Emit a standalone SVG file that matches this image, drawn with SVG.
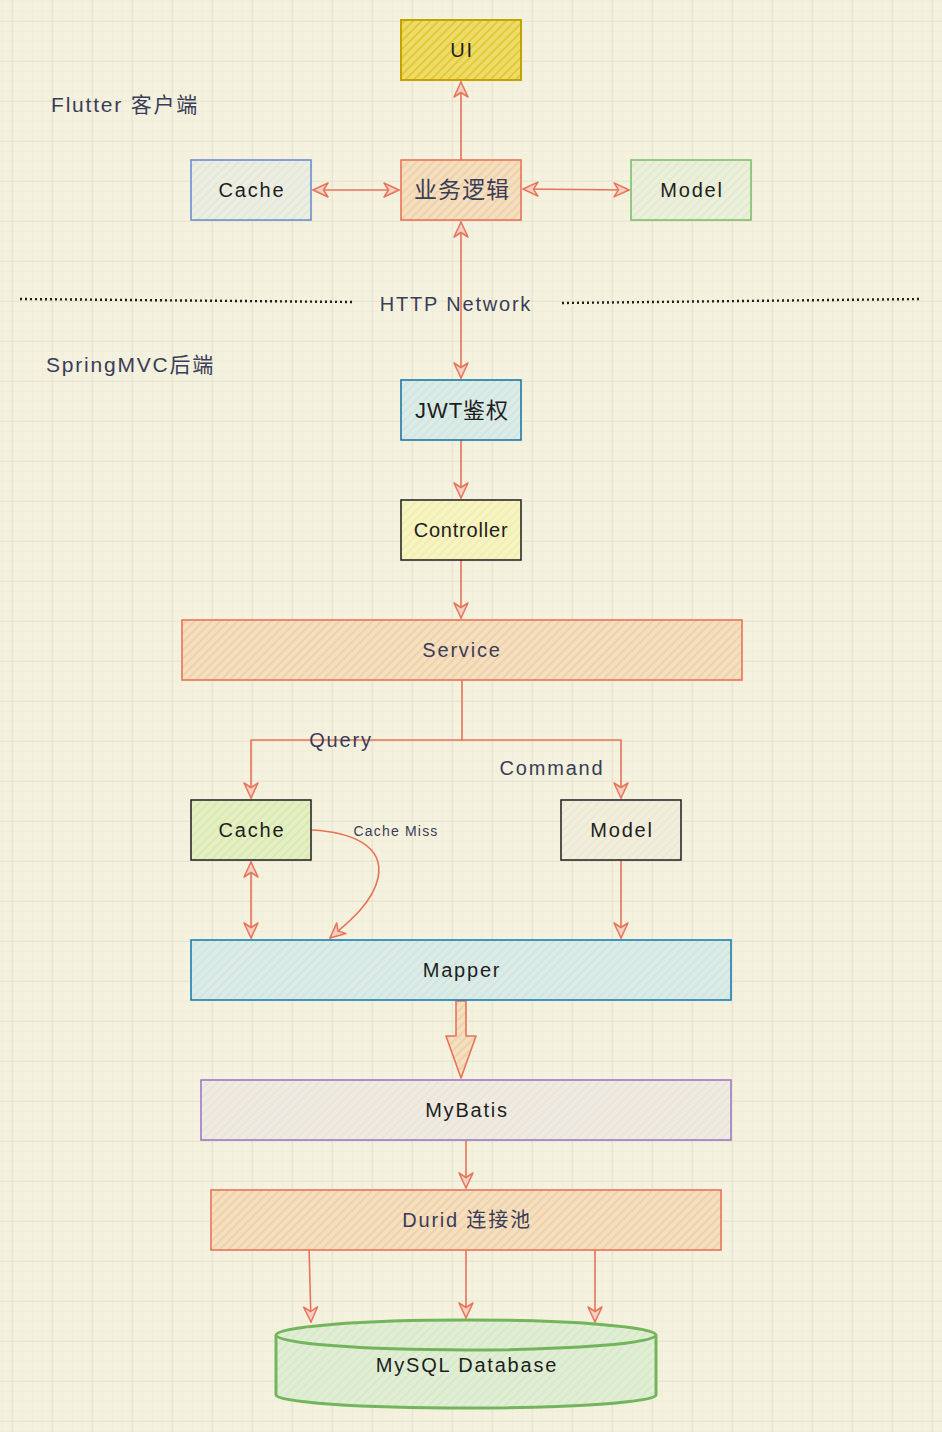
<svg xmlns="http://www.w3.org/2000/svg" width="942" height="1432" viewBox="0 0 942 1432">
<defs>
<style>
.t{font-family:"Liberation Sans","Noto Sans CJK SC",sans-serif;font-size:20px;text-anchor:middle;dominant-baseline:central;fill:#1e1e1e;letter-spacing:1.8px}
.n{fill:#3a3d58}
.l{text-anchor:start;font-size:21px}
.c{fill:none;stroke:#e8735a;stroke-width:1.6;stroke-linecap:round;stroke-linejoin:round}
.b{stroke-width:1.6}
</style>
<pattern id="minor" width="10" height="10" patternUnits="userSpaceOnUse" x="1.7" y="0.7">
<path d="M0,0 V10 M0,0 H10" stroke="#ebe7d2" stroke-width="1" fill="none"/>
</pattern>
<pattern id="major" width="40" height="40" patternUnits="userSpaceOnUse" x="11.7" y="20.7">
<path d="M0,0 V40 M0,0 H40" stroke="#dcd8c3" stroke-width="1.2" fill="none"/>
</pattern>
<pattern id="hY" width="6" height="6" patternUnits="userSpaceOnUse" patternTransform="rotate(45)"><rect width="6" height="6" fill="#eedc6a"/><path d="M1,0 V6" stroke="#e2c52a" stroke-width="1.6"/></pattern>
<pattern id="hO" width="6" height="6" patternUnits="userSpaceOnUse" patternTransform="rotate(45)"><rect width="6" height="6" fill="#f4dfc0"/><path d="M1,0 V6" stroke="#f0c898" stroke-width="1.2"/></pattern>
<pattern id="hBl" width="6" height="6" patternUnits="userSpaceOnUse" patternTransform="rotate(45)"><rect width="6" height="6" fill="#eceee0"/><path d="M1,0 V6" stroke="#dfe3da" stroke-width="1.2"/></pattern>
<pattern id="hG" width="6" height="6" patternUnits="userSpaceOnUse" patternTransform="rotate(45)"><rect width="6" height="6" fill="#ecefd9"/><path d="M1,0 V6" stroke="#dde8cc" stroke-width="1.2"/></pattern>
<pattern id="hC" width="6" height="6" patternUnits="userSpaceOnUse" patternTransform="rotate(45)"><rect width="6" height="6" fill="#dcebe4"/><path d="M1,0 V6" stroke="#c6e3e6" stroke-width="1.2"/></pattern>
<pattern id="hLY" width="6" height="6" patternUnits="userSpaceOnUse" patternTransform="rotate(45)"><rect width="6" height="6" fill="#f6f3c4"/><path d="M1,0 V6" stroke="#f2ec9c" stroke-width="1.2"/></pattern>
<pattern id="hLG" width="6" height="6" patternUnits="userSpaceOnUse" patternTransform="rotate(45)"><rect width="6" height="6" fill="#e4efc4"/><path d="M1,0 V6" stroke="#d2e6a2" stroke-width="1.2"/></pattern>
<pattern id="hW" width="6" height="6" patternUnits="userSpaceOnUse" patternTransform="rotate(45)"><rect width="6" height="6" fill="#f1eedb"/><path d="M1,0 V6" stroke="#e8e6d4" stroke-width="1.2"/></pattern>
<pattern id="hP" width="6" height="6" patternUnits="userSpaceOnUse" patternTransform="rotate(45)"><rect width="6" height="6" fill="#f0ebe0"/><path d="M1,0 V6" stroke="#e6e0dc" stroke-width="1.2"/></pattern>
<pattern id="hDB" width="6" height="6" patternUnits="userSpaceOnUse" patternTransform="rotate(45)"><rect width="6" height="6" fill="#e2eed4"/><path d="M1,0 V6" stroke="#d0e6c8" stroke-width="1.2"/></pattern>
<marker id="ah" viewBox="-17 -9 19 18" markerWidth="19" markerHeight="18" refX="0" refY="0" orient="auto-start-reverse" markerUnits="userSpaceOnUse">
<path d="M0,0 L-15,-7 L-10.5,0 L-15,7 Z" fill="#f5cfc0" stroke="#e8735a" stroke-width="1.5" stroke-linejoin="round"/>
</marker>
</defs>
<rect width="942" height="1432" fill="#f4f1de"/>
<rect width="942" height="1432" fill="url(#minor)"/>
<rect width="942" height="1432" fill="url(#major)"/>

<g id="separator">
<path d="M20,299 L352,302" stroke="#1e1e1e" stroke-width="2.4" stroke-dasharray="2 3" fill="none"/>
<path d="M562,303 L922,299" stroke="#1e1e1e" stroke-width="2.4" stroke-dasharray="2 3" fill="none"/>
<text class="t n" x="456" y="304">HTTP Network</text>
</g>
<g id="labels">
<text class="t n l" x="51" y="104">Flutter 客户端</text>
<text class="t n l" x="46" y="364">SpringMVC后端</text>
</g>

<g id="connectors">
<path class="c" d="M461,160 L461,82" marker-end="url(#ah)"/>
<path class="c" d="M313,190 L399,190" marker-start="url(#ah)" marker-end="url(#ah)"/>
<path class="c" d="M523,189 L629,190" marker-start="url(#ah)" marker-end="url(#ah)"/>
<path class="c" d="M461,222 L461,378" marker-start="url(#ah)" marker-end="url(#ah)"/>
<path class="c" d="M461,440 L461,498" marker-end="url(#ah)"/>
<path class="c" d="M461,560 L461,618" marker-end="url(#ah)"/>
<path class="c" d="M462,680 V740 H251 V798" marker-end="url(#ah)"/>
<path class="c" d="M462,740 H621 V798" marker-end="url(#ah)"/>
<path class="c" d="M251,862 V938" marker-start="url(#ah)" marker-end="url(#ah)"/>
<path class="c" d="M312,830 C350,832 385,845 378,878 C372,905 345,925 330,938" marker-end="url(#ah)"/>
<path class="c" d="M621,860 V938" marker-end="url(#ah)"/>
<path d="M456,1001 L466,1001 L466,1036 L476,1036 L461,1078 L446,1036 L456,1036 Z" fill="url(#hO)" stroke="#e8735a" stroke-width="1.6" stroke-linejoin="round"/>
<path class="c" d="M466,1140 V1188" marker-end="url(#ah)"/>
<path class="c" d="M309,1246 L311,1322" marker-end="url(#ah)"/>
<path class="c" d="M466,1250 V1318" marker-end="url(#ah)"/>
<path class="c" d="M595,1250 V1322" marker-end="url(#ah)"/>
<text class="t n" x="341" y="740">Query</text>
<text class="t n" x="552" y="768">Command</text>
<text class="t n" x="396" y="831" style="font-size:14px;letter-spacing:1.2px">Cache Miss</text>
</g>

<g id="ui"><rect x="401" y="20" width="120" height="60" fill="url(#hY)" stroke="#c2a300" stroke-width="2"/><text class="t" x="462" y="50">UI</text></g>
<g id="logic"><rect x="401" y="160" width="120" height="60" fill="url(#hO)" stroke="#e8735a" class="b"/><text class="t n" x="462" y="190" style="font-size:23px;letter-spacing:1px">业务逻辑</text></g>
<g id="cache-client"><rect x="191" y="160" width="120" height="60" fill="url(#hBl)" stroke="#6b8fd0" class="b"/><text class="t" x="252" y="190">Cache</text></g>
<g id="model-client"><rect x="631" y="160" width="120" height="60" fill="url(#hG)" stroke="#7cbf6a" class="b"/><text class="t" x="692" y="190">Model</text></g>
<g id="jwt"><rect x="401" y="380" width="120" height="60" fill="url(#hC)" stroke="#1f78a8" class="b"/><text class="t" x="462" y="410" style="font-size:22px;letter-spacing:1px">JWT鉴权</text></g>
<g id="controller"><rect x="401" y="500" width="120" height="60" fill="url(#hLY)" stroke="#2a2a2a" class="b"/><text class="t" x="461" y="530" style="letter-spacing:0.8px">Controller</text></g>
<g id="service"><rect x="182" y="620" width="560" height="60" fill="url(#hO)" stroke="#e8735a" class="b"/><text class="t n" x="462" y="650">Service</text></g>
<g id="cache-server"><rect x="191" y="800" width="120" height="60" fill="url(#hLG)" stroke="#2a2a2a" class="b"/><text class="t" x="252" y="830">Cache</text></g>
<g id="model-server"><rect x="561" y="800" width="120" height="60" fill="url(#hW)" stroke="#2a2a2a" class="b"/><text class="t" x="622" y="830">Model</text></g>
<g id="mapper"><rect x="191" y="940" width="540" height="60" fill="url(#hC)" stroke="#1a7fb0" class="b"/><text class="t" x="462" y="970">Mapper</text></g>
<g id="mybatis"><rect x="201" y="1080" width="530" height="60" fill="url(#hP)" stroke="#a078c4" class="b"/><text class="t" x="467" y="1110">MyBatis</text></g>
<g id="durid"><rect x="211" y="1190" width="510" height="60" fill="url(#hO)" stroke="#e8735a" class="b"/><text class="t n" x="467" y="1220">Durid 连接池</text></g>
<g id="mysql">
<path d="M276,1335 L276,1395 A190,13 0 0 0 656,1395 L656,1335" fill="url(#hDB)" stroke="#72b55c" stroke-width="3"/>
<ellipse cx="466" cy="1335" rx="190" ry="15" fill="url(#hDB)" stroke="#72b55c" stroke-width="3"/>
<text class="t" x="467" y="1365">MySQL Database</text>
</g>
</svg>
